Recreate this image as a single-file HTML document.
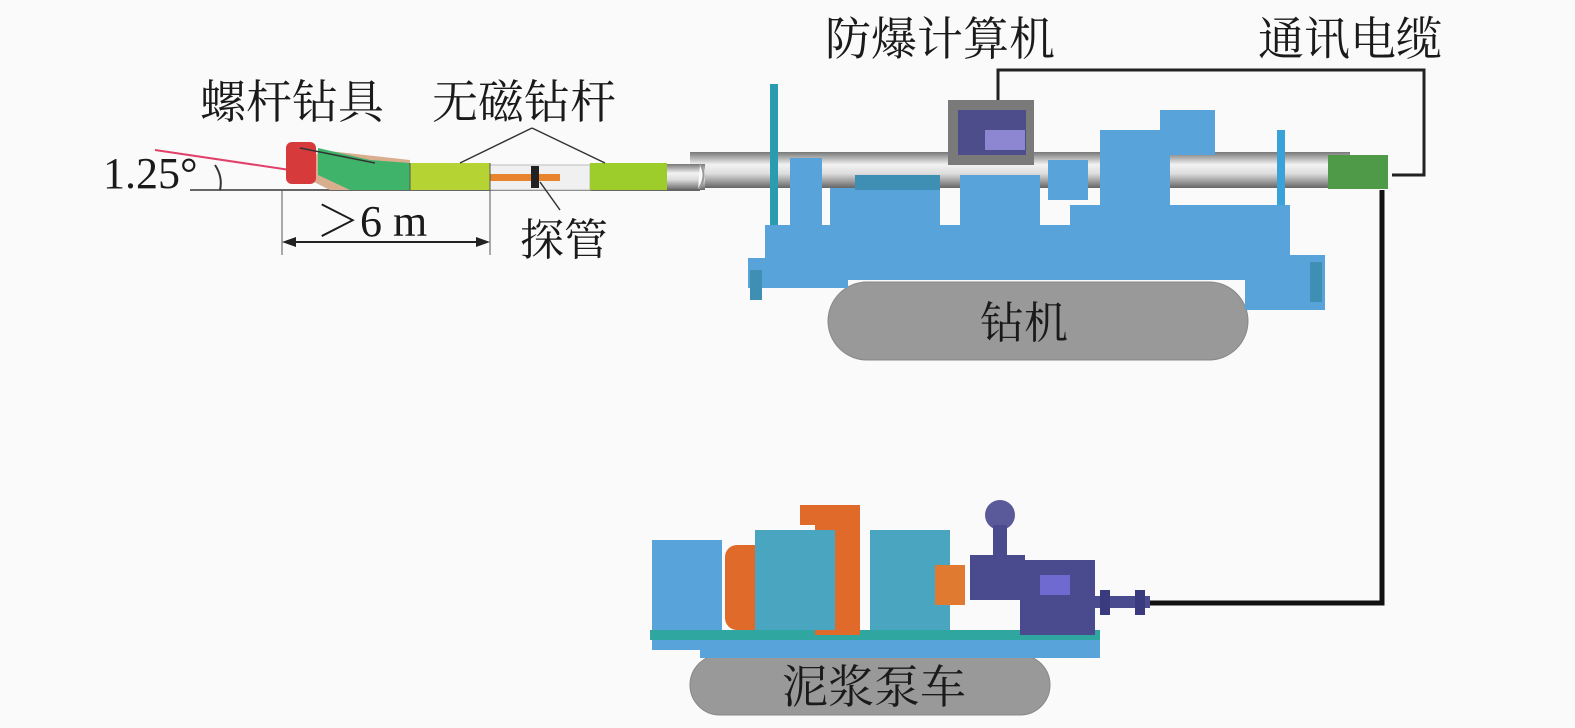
<!DOCTYPE html>
<html><head><meta charset="utf-8"><style>
html,body{margin:0;padding:0;background:#fafafa;}
svg{display:block}
text{font-family:"Liberation Serif","Noto Serif CJK SC","Noto Sans CJK SC",serif;fill:#1a1a1a}
</style></head><body>
<svg width="1575" height="728" viewBox="0 0 1575 728" xmlns="http://www.w3.org/2000/svg">
<defs>
<linearGradient id="pipe" x1="0" y1="0" x2="0" y2="1">
<stop offset="0" stop-color="#777"/><stop offset="0.35" stop-color="#f2f2f2"/><stop offset="0.6" stop-color="#ddd"/><stop offset="1" stop-color="#666"/>
</linearGradient>
</defs>
<rect width="1575" height="728" fill="#fafafa"/>
<text x="825" y="55" font-size="46">防爆计算机</text>
<text x="1258" y="55" font-size="46">通讯电缆</text>
<text x="200" y="118" font-size="46">螺杆钻具</text>
<text x="432" y="118" font-size="46">无磁钻杆</text>
<text x="103" y="188" font-size="44">1.25°</text>
<text x="316" y="236" font-size="44">＞6 m</text>
<text x="520" y="255" font-size="44">探管</text>
<rect x="690" y="152" width="660" height="36" fill="url(#pipe)"/>
<rect x="665" y="164" width="40" height="26" fill="url(#pipe)"/>
<path d="M700 164 q8 12 -2 26" stroke="#999" fill="#fafafa" stroke-width="2"/>
<line x1="190" y1="190" x2="700" y2="190" stroke="#666" stroke-width="2"/>
<line x1="155" y1="150" x2="290" y2="170" stroke="#e0406a" stroke-width="2"/>
<path d="M215 165 q8 12 5 25" stroke="#333" fill="none" stroke-width="2"/>
<polygon points="320,150 410,160 410,190 330,190 300,175" fill="#d9ae8e"/>
<polygon points="318,148 370,160 410,163 410,190 350,190 318,175" fill="#3fb36a"/>
<rect x="286" y="142" width="30" height="42" rx="6" fill="#d63a3a"/>
<rect x="410" y="163" width="80" height="27" fill="#b6d334"/>
<rect x="490" y="165" width="100" height="25" fill="#f0f0f0" stroke="#bbb"/>
<rect x="490" y="174" width="70" height="7" fill="#e8832e"/>
<rect x="531" y="166" width="8" height="22" fill="#222"/>
<rect x="590" y="163" width="77" height="27" fill="#9ccd2a"/>
<line x1="410" y1="163" x2="410" y2="190" stroke="#555"/>
<line x1="490" y1="163" x2="490" y2="190" stroke="#555"/>
<line x1="300" y1="148" x2="375" y2="163" stroke="#333" stroke-width="1.5"/>
<line x1="460" y1="163" x2="532" y2="128" stroke="#333" stroke-width="1.5"/>
<line x1="532" y1="128" x2="605" y2="163" stroke="#333" stroke-width="1.5"/>
<line x1="540" y1="182" x2="560" y2="210" stroke="#333" stroke-width="1.5"/>
<line x1="282" y1="190" x2="282" y2="255" stroke="#555"/>
<line x1="490" y1="190" x2="490" y2="255" stroke="#555"/>
<line x1="286" y1="242" x2="486" y2="242" stroke="#222" stroke-width="2"/>
<polygon points="282,242 296,237 296,247" fill="#222"/>
<polygon points="490,242 476,237 476,247" fill="#222"/>
<polyline points="998,100 998,70 1424,70 1424,175 1392,175" fill="none" stroke="#222" stroke-width="3"/>
<polyline points="1382,190 1382,603 1150,603" fill="none" stroke="#111" stroke-width="5"/>
<rect x="828" y="282" width="420" height="78" rx="39" fill="#999" stroke="#888"/>
<text x="980" y="338" font-size="44">钻机</text>
<rect x="770" y="84" width="8" height="190" fill="#2a9cb0"/>
<rect x="1277" y="130" width="8" height="140" fill="#3aa2d8"/>
<g fill="#57a3da">
<rect x="790" y="158" width="32" height="90"/>
<rect x="830" y="188" width="110" height="50"/>
<rect x="960" y="175" width="80" height="100"/>
<rect x="1048" y="160" width="40" height="40"/>
<rect x="1100" y="130" width="70" height="140"/>
<rect x="1070" y="205" width="220" height="60"/>
<rect x="765" y="225" width="520" height="55"/>
<rect x="748" y="258" width="100" height="30"/>
<rect x="1245" y="255" width="80" height="55"/>
<rect x="1160" y="110" width="55" height="45"/>
</g>
<g fill="#3f8fb4"><rect x="855" y="175" width="85" height="15"/><rect x="750" y="270" width="12" height="30"/><rect x="1310" y="262" width="12" height="40"/></g>
<rect x="948" y="100" width="86" height="65" fill="#7a7a7a"/>
<rect x="958" y="110" width="68" height="45" fill="#4c4d8a"/>
<rect x="985" y="130" width="40" height="20" fill="#8d86d0"/>
<rect x="1328" y="155" width="60" height="34" fill="#4e9a48"/>
<rect x="690" y="655" width="360" height="60" rx="30" fill="#999" stroke="#888"/>
<text x="782" y="703" font-size="46">泥浆泵车</text>
<rect x="652" y="540" width="70" height="110" fill="#57a3da"/>
<rect x="700" y="630" width="400" height="28" fill="#57a3da"/>
<rect x="650" y="630" width="450" height="10" fill="#2fa6a0"/>
<rect x="725" y="545" width="50" height="85" rx="12" fill="#e06a2a"/>
<rect x="800" y="505" width="60" height="20" fill="#e06a2a"/>
<rect x="815" y="515" width="45" height="120" fill="#e06a2a"/>
<rect x="755" y="530" width="80" height="100" fill="#4aa5c0"/>
<rect x="870" y="530" width="80" height="100" fill="#4aa5c0"/>
<rect x="935" y="565" width="30" height="40" fill="#e07a30"/>
<rect x="970" y="555" width="55" height="45" fill="#4a4a8e"/>
<circle cx="1000" cy="515" r="15" fill="#5a5a9a"/>
<rect x="993" y="525" width="14" height="35" fill="#4a4a8e"/>
<rect x="1020" y="560" width="75" height="75" fill="#4a4a8e"/>
<rect x="1040" y="575" width="30" height="20" fill="#6e6ad0"/>
<rect x="1095" y="596" width="55" height="12" fill="#4a4a8e"/>
<rect x="1100" y="590" width="10" height="25" fill="#3a3a7e"/>
<rect x="1135" y="590" width="10" height="25" fill="#3a3a7e"/>
</svg>
</body></html>
